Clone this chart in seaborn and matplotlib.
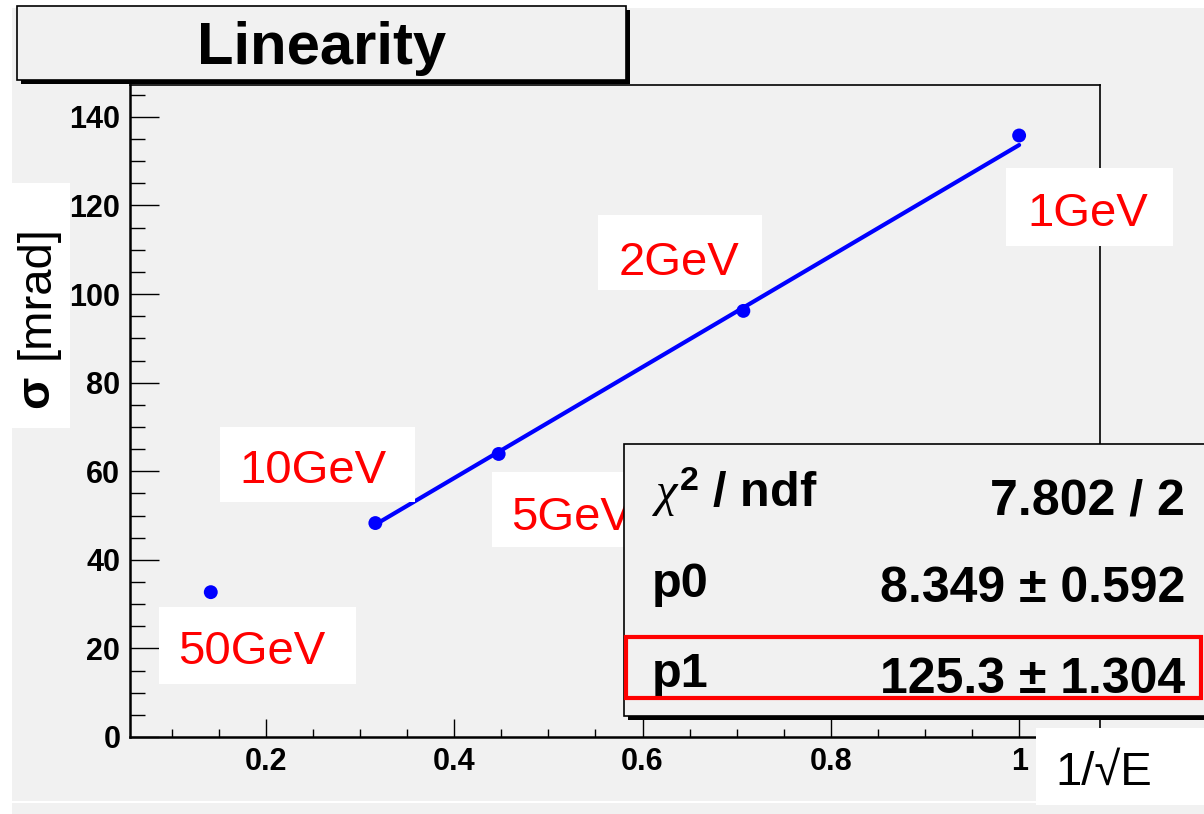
import matplotlib
matplotlib.use("Agg")
import matplotlib.pyplot as plt
import seaborn as sns
import pandas as pd
from matplotlib.patches import Rectangle
from matplotlib.ticker import MultipleLocator, FuncFormatter

# data
energy_labels = ["50GeV", "10GeV", "5GeV", "2GeV", "1GeV"]
inv_sqrt_e = [0.1414, 0.3162, 0.4472, 0.7071, 1.0]
sigma_mrad = [32.7, 48.3, 63.9, 96.2, 135.8]

# fit result (pol1) shown in the stats box
p0, p0_err = 8.349, 0.592
p1, p1_err = 125.3, 1.304
chi2, ndf = 7.802, 2
fit_x = [0.3162, 1.0]

W, H = 1204, 814
BG = "#f1f1f1"

sns.set_theme(style="ticks")
plt.rcParams["font.family"] = ["Liberation Sans", "DejaVu Sans"]
plt.rcParams["text.color"] = "black"
plt.rcParams["xtick.color"] = "black"
plt.rcParams["ytick.color"] = "black"
plt.rcParams["mathtext.fontset"] = "custom"
plt.rcParams["mathtext.rm"] = "Liberation Sans:bold"
plt.rcParams["mathtext.it"] = "Liberation Serif:italic"
plt.rcParams["mathtext.bf"] = "Liberation Sans:bold"

fig = plt.figure(figsize=(W / 100, H / 100), dpi=100)
fig.patch.set_facecolor("white")


def fx(px):
    return px / W


def fy(py):
    return 1 - py / H


# rectangle in pixel coords (top-left origin)
def box(x0, y0, x1, y1, **kw):
    r = Rectangle((fx(x0), fy(y1)), (x1 - x0) / W, (y1 - y0) / H,
                  transform=fig.transFigure, **kw)
    fig.add_artist(r)
    return r


def label(x, y, s, **kw):
    fig.text(fx(x), fy(y), s, va="baseline", **kw)


# canvas background
box(12, 8, W, 801, facecolor=BG, edgecolor="none", zorder=-10)
box(12, 803, W, H, facecolor=BG, edgecolor="none", zorder=-10)

ax = fig.add_axes([fx(130), fy(737), (1100 - 130) / W, (737 - 85) / H])
ax.set_facecolor(BG)

df = pd.DataFrame({"x": inv_sqrt_e, "y": sigma_mrad, "E": energy_labels})
fit_df = pd.DataFrame({"x": fit_x, "y": [p0 + p1 * v for v in fit_x]})

sns.lineplot(data=fit_df, x="x", y="y", ax=ax, color="blue", lw=3, zorder=3)
sns.scatterplot(data=df, x="x", y="y", ax=ax, color="blue", s=100,
                edgecolor="none", zorder=4, legend=False)

ax.set_xlim(0.0556, 1.0859)
ax.set_ylim(0, 147.2)
ax.set_xlabel("")
ax.set_ylabel("")

ax.xaxis.set_major_locator(MultipleLocator(0.2))
ax.xaxis.set_minor_locator(MultipleLocator(0.05))
ax.yaxis.set_major_locator(MultipleLocator(20))
ax.yaxis.set_minor_locator(MultipleLocator(5))
ax.xaxis.set_major_formatter(FuncFormatter(lambda v, p: "%g" % round(v, 3)))
ax.yaxis.set_major_formatter(FuncFormatter(lambda v, p: "%g" % v))

ax.tick_params(which="both", direction="in", top=False, right=False,
               width=1.0, color="black", labelcolor="black")
ax.tick_params(axis="x", which="major", length=13, pad=7)
ax.tick_params(axis="x", which="minor", length=6)
ax.tick_params(axis="y", which="major", length=21, pad=7)
ax.tick_params(axis="y", which="minor", length=11)
for t in ax.get_xticklabels() + ax.get_yticklabels():
    t.set_fontsize(22)
    t.set_fontweight("bold")

for side in ["left", "bottom"]:
    ax.spines[side].set_linewidth(1.8)
for side in ["top", "right"]:
    ax.spines[side].set_linewidth(1.2)
for s in ax.spines.values():
    s.set_color("black")

# title pave with shadow
box(21, 10, 630, 84, facecolor="black", edgecolor="none", zorder=5)
box(17, 6, 626, 80, facecolor=BG, edgecolor="black", lw=1.2, zorder=6)
fig.text(fx(322), fy(64), "Linearity", ha="center", va="baseline",
         fontsize=43, fontweight="bold", zorder=7)

# energy labels with white backgrounds
label_boxes = [(159, 607, 356, 684), (220, 427, 415, 502), (492, 472, 636, 547),
               (598, 215, 762, 290), (1006, 168, 1173, 246)]
label_text = [(252, 664), (313, 483), (572, 530), (679, 275), (1088, 226)]
for name, b, t in zip(energy_labels, label_boxes, label_text):
    box(*b, facecolor="white", edgecolor="none", zorder=8)
    label(t[0], t[1], name, ha="center", fontsize=34, color="red", zorder=9)

# axis titles
box(12, 183, 70, 428, facecolor="white", edgecolor="none", zorder=8)
fig.text(fx(36), fy(392), "σ", rotation=90, ha="center", va="center",
         fontsize=34, fontweight="bold", zorder=9)
fig.text(fx(37), fy(292), "[mrad]", rotation=90, ha="center", va="center",
         fontsize=34, zorder=9)

box(1036, 728, W, 805, facecolor="white", edgecolor="none", zorder=8)
label(1104, 785, "1/√E", ha="center", fontsize=34, zorder=9)

# stats box
box(628, 448, W + 10, 720, facecolor="black", edgecolor="none", zorder=10)
box(624, 444, W + 10, 716, facecolor=BG, edgecolor="black", lw=1.2, zorder=11)
box(626, 637, 1201, 698, facecolor="none", edgecolor="red", lw=3, zorder=13)

stat_rows = [(r"$\chi^{2}$ / ndf", "%.3f / %d" % (chi2, ndf), 507, 514),
             ("p0", "%.3f ± %.3f" % (p0, p0_err), 597, 602),
             ("p1", "%.1f ± %.3f" % (p1, p1_err), 687, 693)]
for name, val, yl, yr in stat_rows:
    label(652, yl, name, ha="left", fontsize=35, fontweight="bold", zorder=12)
    label(1185, yr, val, ha="right", fontsize=36, fontweight="bold", zorder=12)

fig.savefig("out.png", dpi=100, facecolor=fig.get_facecolor())
